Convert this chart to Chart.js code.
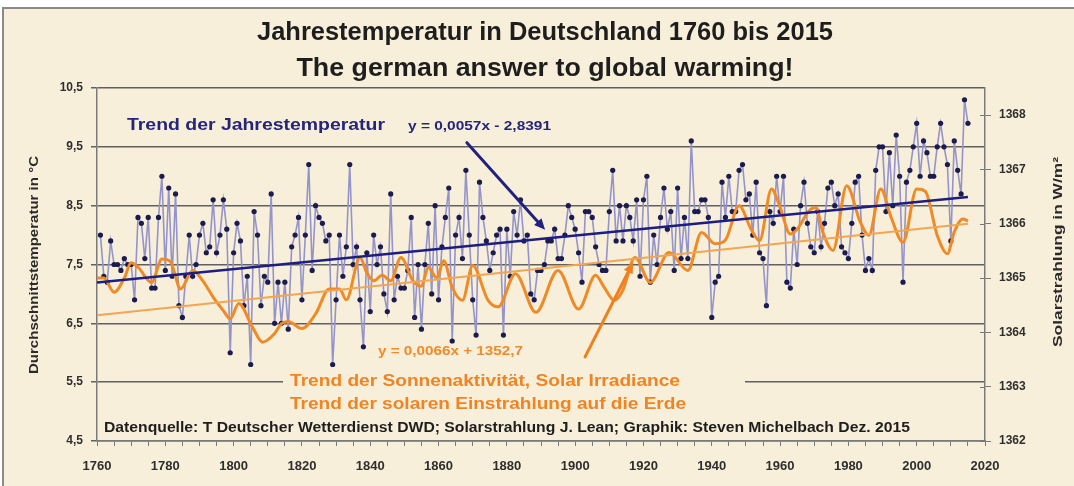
<!DOCTYPE html>
<html><head><meta charset="utf-8">
<script src="https://cdn.jsdelivr.net/npm/chart.js@4.4.0/dist/chart.umd.min.js"></script>
<style>
html,body{margin:0;padding:0;background:#fff;}
canvas{display:block;}
</style></head><body>
<canvas id="c" width="1074" height="486"></canvas>
<script>
// ---------------- DATA ----------------
const TEMP_START_YEAR = 1761;
const tempValues = [
 8.0,7.3,7.2,7.9,7.5,7.5,7.4,7.6,7.5,7.5,
 6.9,8.3,8.2,7.6,8.3,7.1,7.1,8.3,9.0,7.4,
 8.8,7.3,8.7,6.8,6.6,7.3,8.0,7.3,7.5,8.0,
 8.2,7.7,7.8,8.6,7.7,8.0,8.6,8.1,6.0,7.7,
 8.2,7.9,6.8,7.3,5.8,8.4,8.0,6.8,7.3,7.2,
 8.7,6.5,7.2,6.5,7.2,6.4,7.8,8.0,8.3,6.9,
 8.0,9.2,7.4,8.5,8.3,8.2,7.9,8.0,5.8,6.9,
 8.0,7.3,7.8,9.2,7.5,7.8,6.9,6.1,7.7,6.7,
 8.0,7.5,7.8,7.0,6.7,8.7,6.9,7.3,7.1,7.1,
 7.4,8.3,6.6,7.5,6.4,7.5,8.2,7.0,8.5,6.9,
 7.8,8.3,8.8,6.2,8.0,8.3,7.6,9.1,8.0,6.9,
 6.3,8.9,8.3,7.9,7.4,7.7,8.0,8.1,6.3,8.1,
 7.3,8.4,8.0,8.6,7.9,8.0,7.0,6.9,7.4,7.4,
 7.5,7.9,7.9,8.1,7.6,7.6,8.0,8.5,8.3,8.1,
 7.7,7.2,8.4,8.4,8.3,7.8,7.5,7.4,7.4,8.4,
 9.1,7.9,8.5,7.9,8.5,8.3,7.9,8.6,7.3,8.6,
 9.0,7.2,8.0,7.5,8.3,8.8,8.1,8.4,7.4,8.8,
 7.6,8.3,7.6,9.6,8.4,8.4,8.6,8.6,8.3,6.6,
 7.2,7.3,8.9,8.3,9.0,8.4,8.4,9.1,9.2,8.6,
 8.7,8.0,8.9,7.7,7.6,6.8,8.4,8.2,9.0,8.4,
 9.0,7.2,7.1,8.1,7.5,8.5,8.9,8.2,7.8,7.7,
 8.4,7.8,8.2,8.8,8.9,8.5,8.7,7.8,7.7,7.6,
 8.2,8.9,9.0,8.0,7.4,7.6,7.4,9.1,9.5,9.5,
 8.4,9.4,8.5,9.7,9.0,7.2,8.9,9.1,9.5,9.9,
 9.0,9.6,9.4,9.0,9.0,9.5,9.9,9.5,9.2,7.9,
 9.6,9.1,8.7,10.3,9.9
];
const solarYears = [1760,1762,1765,1768,1770,1772,1776,1779,1781.5,1784.5,1788,1791,1794,1797,1799,1801.5,1805.5,1808.5,1812,1814,1816,1820,1824,1828,1831,1833,1837,1839,1841,1843.5,1846,1849,1852.5,1855,1857,1859.5,1861.5,1864,1867,1870,1874.5,1877.5,1882.5,1888.5,1895,1901,1906,1908.5,1911.5,1914,1917.5,1922,1927.5,1933,1937,1941,1944,1948,1951.5,1954,1957.5,1960,1963,1965,1968.5,1970.5,1972.5,1975.5,1979.5,1983.5,1986,1989.5,1992.5,1996,2000,2002.5,2006,2009,2011,2013.5,2015];
const solarValues = [1365.0,1365.0,1364.74,1365.0,1365.28,1365.2,1364.92,1365.35,1365.3,1364.8,1365.14,1364.95,1364.65,1364.4,1364.25,1364.53,1364.1,1363.82,1363.98,1364.16,1364.2,1364.07,1364.34,1364.8,1364.8,1364.6,1365.38,1365.1,1364.95,1365.05,1364.95,1365.38,1364.95,1364.85,1365.2,1365.0,1365.32,1364.83,1364.59,1365.23,1364.59,1364.47,1365.08,1364.37,1365.14,1364.43,1365.05,1364.83,1364.59,1364.78,1365.38,1364.92,1365.47,1365.14,1365.84,1365.63,1365.7,1366.33,1365.9,1365.69,1366.64,1366.3,1365.81,1365.9,1366.24,1366.3,1365.85,1365.51,1366.7,1366.03,1365.79,1366.64,1366.12,1365.66,1366.64,1366.6,1365.79,1365.45,1365.85,1366.09,1366.05];
const trendYears = [1760, 2015];
const tempTrend = {slope: 0.0057, intercept: -2.8391};
const solarTrend = {slope: 0.0066, intercept: 1352.7};
const leftTicks = [4.5,5.5,6.5,7.5,8.5,9.5,10.5];
const rightTicks = [1362,1363,1364,1365,1366,1367,1368];
const xLabelYears = [1760,1780,1800,1820,1840,1860,1880,1900,1920,1940,1960,1980,2000,2020];
// arrow anchors in data units [year, value]
const blueArrow = {from:[1868.3, 9.57], to:[1891.2, 8.09]};
const orangeArrow = {from:[1902.9, 5.93], to:[1917.0, 7.54]};

// ---------------- BUILD ----------------
const tempPoints = tempValues.map((v,i)=>({x: TEMP_START_YEAR + i, y: v}));
const solarPoints = solarYears.map((yr,i)=>({x: yr, y: solarValues[i]}));
const tempTrendPts = trendYears.map(yr=>({x: yr, y: tempTrend.slope*yr + tempTrend.intercept}));
const solarTrendPts = trendYears.map(yr=>({x: yr, y: solarTrend.slope*yr + solarTrend.intercept}));

const BG = '#f7efd9';
const FONT = '"Liberation Sans", Arial, sans-serif';

function fitText(ctx, text, x, y, font, color, align, targetW, rot){
  ctx.save();
  ctx.font = font; ctx.fillStyle = color;
  ctx.textAlign = align; ctx.textBaseline = 'middle';
  const w = ctx.measureText(text).width;
  const sx = targetW ? targetW / w : 1;
  ctx.translate(x, y);
  if (rot) ctx.rotate(rot);
  ctx.scale(sx, 1);
  ctx.fillText(text, 0, 0);
  ctx.restore();
}
function arrow(ctx, x1,y1,x2,y2,color,lw,head){
  const a = Math.atan2(y2-y1, x2-x1);
  const bx = x2 - Math.cos(a)*head*0.8, by = y2 - Math.sin(a)*head*0.8;
  ctx.save();
  ctx.strokeStyle = color; ctx.fillStyle = color; ctx.lineWidth = lw; ctx.lineCap='round';
  ctx.beginPath(); ctx.moveTo(x1,y1); ctx.lineTo(bx,by); ctx.stroke();
  ctx.beginPath();
  ctx.moveTo(x2,y2);
  ctx.lineTo(x2 - head*Math.cos(a-0.42), y2 - head*Math.sin(a-0.42));
  ctx.lineTo(x2 - head*Math.cos(a+0.42), y2 - head*Math.sin(a+0.42));
  ctx.closePath(); ctx.fill();
  ctx.restore();
}

const deco = {
  id: 'deco',
  beforeDraw(chart){
    const ctx = chart.ctx;
    ctx.save();
    ctx.fillStyle = '#ffffff'; ctx.fillRect(0,0,chart.width,chart.height);
    ctx.fillStyle = BG; ctx.fillRect(3,8,chart.width-3,chart.height-8);
    ctx.strokeStyle = '#8a8a8a'; ctx.lineWidth = 2;
    ctx.beginPath(); ctx.moveTo(3,chart.height); ctx.lineTo(3,8); ctx.lineTo(chart.width,8); ctx.stroke();
    ctx.restore();
    // titles
    fitText(ctx,'Jahrestemperatur in Deutschland 1760 bis 2015',545,33,'bold 26px '+FONT,'#1e1e1e','center',576);
    fitText(ctx,'The german answer to global warming!',545,69,'bold 26px '+FONT,'#1e1e1e','center',497);
    // axis titles
    fitText(ctx,'Durchschnittstemperatur in °C',34,265,'bold 13px '+FONT,'#2a2a2a','center',218,-Math.PI/2);
    fitText(ctx,'Solarstrahlung in W/m²',1058,252,'bold 13px '+FONT,'#2a2a2a','center',190,-Math.PI/2);
  },
  beforeDatasetsDraw(chart){
    const ctx = chart.ctx;
    ctx.save(); ctx.fillStyle = BG; ctx.fillRect(283,371,462,44); ctx.restore();
  },
  afterDatasetsDraw(chart){
    const ctx = chart.ctx, sx = chart.scales.x, sy = chart.scales.y;
    const s2 = chart.scales.y2;
    ctx.save(); ctx.strokeStyle='#777'; ctx.lineWidth=1;
    rightTicks.forEach(v=>{const yy=Math.round(s2.getPixelForValue(v))+0.5; ctx.beginPath(); ctx.moveTo(chart.chartArea.right-5,yy); ctx.lineTo(chart.chartArea.right,yy); ctx.stroke();});
    ctx.restore();
    fitText(ctx,'Trend der Jahrestemperatur',127,126,'bold 16px '+FONT,'#25257a','left',258);
    fitText(ctx,'y = 0,0057x - 2,8391',408,126,'bold 13px '+FONT,'#25257a','left',143);
    fitText(ctx,'y = 0,0066x + 1352,7',378,351,'bold 13px '+FONT,'#f08a2a','left',145);
    fitText(ctx,'Trend der Sonnenaktivität, Solar Irradiance',290,381,'bold 17px '+FONT,'#f08424','left',390);
    fitText(ctx,'Trend der solaren Einstrahlung auf die Erde',290,404,'bold 17px '+FONT,'#f08424','left',396);
    fitText(ctx,'Datenquelle: T Deutscher Wetterdienst DWD; Solarstrahlung J. Lean; Graphik: Steven Michelbach Dez. 2015',104,428,'bold 14px '+FONT,'#1e1e1e','left',806);
    arrow(ctx, sx.getPixelForValue(blueArrow.from[0]), sy.getPixelForValue(blueArrow.from[1]),
               sx.getPixelForValue(blueArrow.to[0]), sy.getPixelForValue(blueArrow.to[1]), '#22227e', 3, 12);
    arrow(ctx, sx.getPixelForValue(orangeArrow.from[0]), sy.getPixelForValue(orangeArrow.from[1]),
               sx.getPixelForValue(orangeArrow.to[0]), sy.getPixelForValue(orangeArrow.to[1]), '#f07f1e', 3, 12);
  }
};

new Chart(document.getElementById('c'), {
  type: 'line',
  data: {
    datasets: [
      {data: tempTrendPts, yAxisID:'y', borderColor:'#1d1d82', borderWidth:2.5, pointRadius:0, order:0},
      {data: solarTrendPts, yAxisID:'y2', borderColor:'#f2a552', borderWidth:2, pointRadius:0, order:1},
      {data: solarPoints, yAxisID:'y2', borderColor:'#f08a26', borderWidth:3, pointRadius:0, cubicInterpolationMode:'monotone', order:2},
      {data: tempPoints, yAxisID:'y', borderColor:'#9494ca', borderWidth:1.6, pointRadius:2.6,
       pointBackgroundColor:'#1b1b4e', pointBorderWidth:0, order:3}
    ]
  },
  options: {
    responsive:false, animation:false, devicePixelRatio:1,
    layout:{padding:{top:88,left:0,right:0,bottom:0}},
    plugins:{legend:{display:false}, title:{display:false}, tooltip:{enabled:false}},
    scales:{
      x:{type:'linear', min:1760, max:2020,
         afterFit(s){s.height=45;},
         afterBuildTicks(s){ const t=[]; for(let v=1760; v<=2020; v+=5) t.push({value:v}); s.ticks=t; },
         ticks:{autoSkip:false, maxRotation:0, padding:13, color:'#2e2e2e', font:{family:FONT, size:13, weight:'bold'},
                callback:(v)=> xLabelYears.includes(v) ? String(v) : ''},
         grid:{drawOnChartArea:false, drawTicks:true, tickLength:5, color:'#7a7a7a', lineWidth:1},
         border:{display:true, color:'#7a7a7a', width:1.5}},
      y:{position:'left', min:4.5, max:10.5,
         afterFit(s){s.width=97;},
         afterBuildTicks(s){ s.ticks = leftTicks.map(v=>({value:v})); },
         ticks:{padding:8, color:'#2e2e2e', font:{family:FONT, size:12, weight:'bold'},
                callback:(v)=> v.toFixed(1).replace('.',',')},
         grid:{color:'#606060', lineWidth:1.5, drawTicks:true, tickLength:6},
         border:{display:true, color:'#7a7a7a', width:1.5}},
      y2:{position:'right', min:1362, max:1368.5,
         afterFit(s){s.width=89;},
         afterBuildTicks(s){ s.ticks = rightTicks.map(v=>({value:v})); },
         ticks:{padding:8, color:'#2e2e2e', font:{family:FONT, size:12, weight:'bold'},
                callback:(v)=> String(v)},
         grid:{drawOnChartArea:false, drawTicks:true, tickLength:6, color:'#7a7a7a'},
         border:{display:true, color:'#7a7a7a', width:1.5}}
    }
  },
  plugins:[deco]
});
</script>
</body></html>
